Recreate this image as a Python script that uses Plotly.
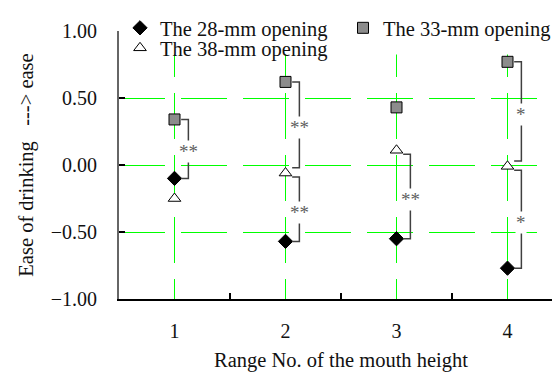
import plotly.graph_objects as go

categories = [1, 2, 3, 4]
tick_labels = ["1", "2", "3", "4"]
s28 = [-0.10, -0.57, -0.55, -0.77]
s33 = [0.34, 0.62, 0.43, 0.77]
s38 = [-0.25, -0.06, 0.11, -0.01]
y_ticks = [-1.0, -0.5, 0.0, 0.5, 1.0]
# brackets: (category index, upper series, lower series, label)
brackets = [
    (0, "33", "28", "**"),
    (1, "33", "38", "**"),
    (1, "38", "28", "**"),
    (2, "38", "28", "**"),
    (3, "33", "38", "*"),
    (3, "38", "28", "*"),
]

series = {"28": s28, "33": s33, "38": s38}
FONT = "Liberation Serif, Times New Roman, serif"
GREEN = "#00ff00"

fig = go.Figure()
fig.add_trace(go.Scatter(x=categories, y=s28, mode="markers", name="The 28-mm opening",
                         legend="legend",
                         marker=dict(symbol="diamond", size=11, color="black",
                                     line=dict(color="black", width=1))))
fig.add_trace(go.Scatter(x=categories, y=s33, mode="markers", name="The 33-mm opening",
                         legend="legend",
                         marker=dict(symbol="square", size=11, color="#8c8c8c",
                                     line=dict(color="black", width=1))))
fig.add_trace(go.Scatter(x=categories, y=s38, mode="markers", name="The 38-mm opening",
                         legend="legend2",
                         marker=dict(symbol="triangle-up", size=11, color="white",
                                     line=dict(color="black", width=1))))

# white mask behind the legend area (hides the grid there, as in the original)
fig.add_shape(type="rect", xref="paper", yref="paper", x0=0.05, x1=1.0, y0=0.912, y1=1.0,
              fillcolor="white", line=dict(width=0), layer="above")

dx_start = 0.06
dx_line = 0.125
for idx, top, bot, lab in brackets:
    x = categories[idx]
    y1 = series[top][idx]
    y2 = series[bot][idx]
    if top == "38":
        y1 -= 0.03
    if bot == "38":
        y2 += 0.04
    fig.add_shape(type="path",
                  path=f"M {x+dx_start},{y1} L {x+dx_line},{y1} L {x+dx_line},{y2} L {x+dx_start},{y2}",
                  line=dict(color="#404040", width=1.5), layer="above")
    fig.add_annotation(x=x + dx_line, y=(y1 + y2) / 2, text=lab, showarrow=False,
                       font=dict(family=FONT, size=19, color="#606060"),
                       bgcolor="white", borderpad=0, yshift=-3)

legend_common = dict(orientation="h", xref="container", yref="container",
                     x=0.2, xanchor="left", yanchor="top",
                     borderwidth=0,
                     entrywidth=178, entrywidthmode="pixels",
                     font=dict(family=FONT, size=20.5), tracegroupgap=0)

fig.update_layout(
    width=560, height=376,
    margin=dict(l=111, r=5, t=23, b=85, autoexpand=False),
    paper_bgcolor="white", plot_bgcolor="white",
    font=dict(family=FONT, size=20, color="#111111"),
    showlegend=True,
    legend=dict(y=1.0, bgcolor="rgba(255,255,255,0)", **legend_common),
    legend2=dict(y=1.0 - 20 / 376, bgcolor="rgba(255,255,255,0)", **legend_common),
    xaxis=dict(range=[0.5, 4.5], tickmode="array", tickvals=categories, ticktext=tick_labels,
               ticks="", showline=True, linecolor="black", linewidth=2,
               showgrid=True, gridcolor=GREEN, gridwidth=1, griddash="46px,16px",
               zeroline=False, ticklabelstandoff=13,
               minor=dict(tickmode="array", tickvals=[1.5, 2.5, 3.5, 4.5], ticks="inside",
                          ticklen=6, tickwidth=1.5, tickcolor="black", showgrid=False),
               title=dict(text="Range No. of the mouth height", standoff=12,
                          font=dict(size=20.5))),
    yaxis=dict(range=[-1, 1], tickmode="array", tickvals=y_ticks, tickformat=".2f",
               ticks="inside", ticklen=6, tickwidth=1.5, tickcolor="black",
               showline=True, linecolor="#666666", linewidth=2,
               showgrid=True, gridcolor=GREEN, gridwidth=1, griddash="46px,16px",
               zeroline=False, ticklabelstandoff=16,
               title=dict(text="Ease of drinking   ---> ease", standoff=12,
                          font=dict(size=20.5))),
)

fig.write_html("out.html")
